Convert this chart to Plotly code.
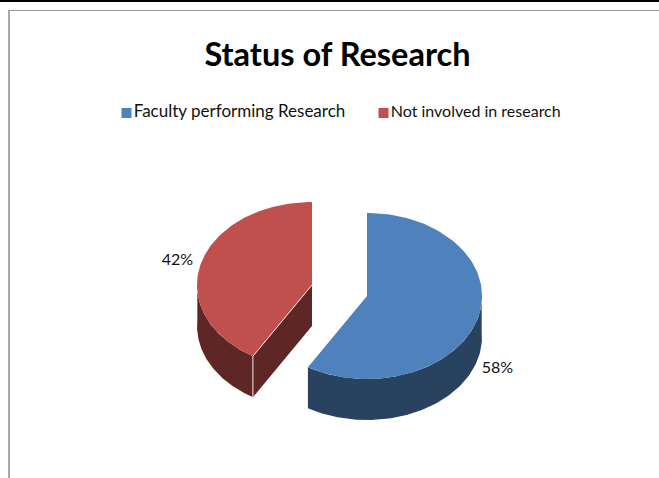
import numpy as np
import plotly.graph_objects as go

# Data
categories = ["Faculty performing Research", "Not involved in research"]
percent = [58, 42]
top_colors = ["#4F81BD", "#C0504D"]
side_colors = ["#284260", "#5E2625"]
title_text = "Status of Research"

# Fake 3D pie drawn in pixel coordinates (axes run 0-659 and 478-0)
RX, RY, DEPTH = 115, 83, 41
CENTERS = [(367, 296), (312, 285)]  # exploded slices
FONT = "Lato, Open Sans, sans-serif"


def arc(cx, cy, a0, a1, drop=0):
    # angles in degrees, clockwise from 12 o'clock
    a = np.linspace(a0, a1, 120)
    t = np.radians(a - 4.4 * np.sin(np.radians(a)))  # slight perspective skew
    return cx + RX * np.sin(t), cy - RY * np.cos(t) + drop


def poly(xs, ys, color):
    return go.Scatter(x=list(xs), y=list(ys), mode="lines", fill="toself", fillcolor=color,
                      line=dict(color="rgba(0,0,0,0)", width=0), hoverinfo="skip", showlegend=False)


fig = go.Figure()

split = percent[0] * 3.6  # 208.8 deg

# blue slice: front wall then top
cx, cy = CENTERS[0]
x1, y1 = arc(cx, cy, 90, split)
x2, y2 = arc(cx, cy, 90, split, DEPTH)
fig.add_trace(poly(np.r_[x1, x2[::-1]], np.r_[y1, y2[::-1]], side_colors[0]))
x, y = arc(cx, cy, 0, split)
fig.add_trace(poly(np.r_[cx, x, cx], np.r_[cy, y, cy], top_colors[0]))

# red slice: outer wall, cut face, top
cx, cy = CENTERS[1]
x1, y1 = arc(cx, cy, split, 270)
x2, y2 = arc(cx, cy, split, 270, DEPTH)
fig.add_trace(poly(np.r_[x1, x2[::-1]], np.r_[y1, y2[::-1]], side_colors[1]))
fig.add_trace(poly([x1[0], cx, cx, x1[0], x1[0]],
                   [y1[0], cy, cy + DEPTH, y2[0], y1[0]], side_colors[1]))
x, y = arc(cx, cy, split, 360)
fig.add_trace(poly(np.r_[cx, x, cx], np.r_[cy, y, cy], top_colors[1]))
# thin white edge along the cut
fig.add_trace(go.Scatter(x=[cx, x1[0], x1[0]], y=[cy, y1[0], y2[0]], mode="lines",
                         line=dict(color="#F2E4E3", width=1), hoverinfo="skip", showlegend=False))

# percent labels
fig.add_trace(go.Scatter(x=[177.5, 497.5], y=[260.5, 368.5], mode="text",
                         text=[f"{percent[1]}%", f"{percent[0]}%"],
                         textfont=dict(family=FONT, size=16, color="#111111"),
                         hoverinfo="skip", showlegend=False))

# legend row
fig.add_trace(go.Scatter(x=[126.5, 383.5], y=[113, 113], mode="markers+text",
                         marker=dict(symbol="square", size=10, color=top_colors),
                         text=categories, textposition="middle right",
                         textfont=dict(family=FONT, size=[17, 16], color="#111111"),
                         hoverinfo="skip", showlegend=False))

fig.update_layout(
    title=dict(text=f"<b>{title_text}</b>", x=337.5 / 659, xanchor="center", y=1 - 55 / 478, yanchor="middle",
               font=dict(family=FONT, size=32.5, color="#000000")),
    width=659, height=478, autosize=False,
    margin=dict(l=0, r=0, t=0, b=0),
    paper_bgcolor="white", plot_bgcolor="white",
    xaxis=dict(range=[0, 659], visible=False, fixedrange=True),
    yaxis=dict(range=[478, 0], visible=False, fixedrange=True),
    shapes=[
        dict(type="line", x0=0, x1=659, y0=1, y1=1, line=dict(color="black", width=2)),
        dict(type="line", x0=9, x1=659, y0=10.5, y1=10.5, line=dict(color="#9A9A9A", width=1)),
        dict(type="line", x0=9, x1=9, y0=10, y1=478, line=dict(color="#8C8C8C", width=1.5)),
    ],
)

fig.write_html("out.html", config={"displayModeBar": False},
               post_script="document.body.style.margin='0';")
